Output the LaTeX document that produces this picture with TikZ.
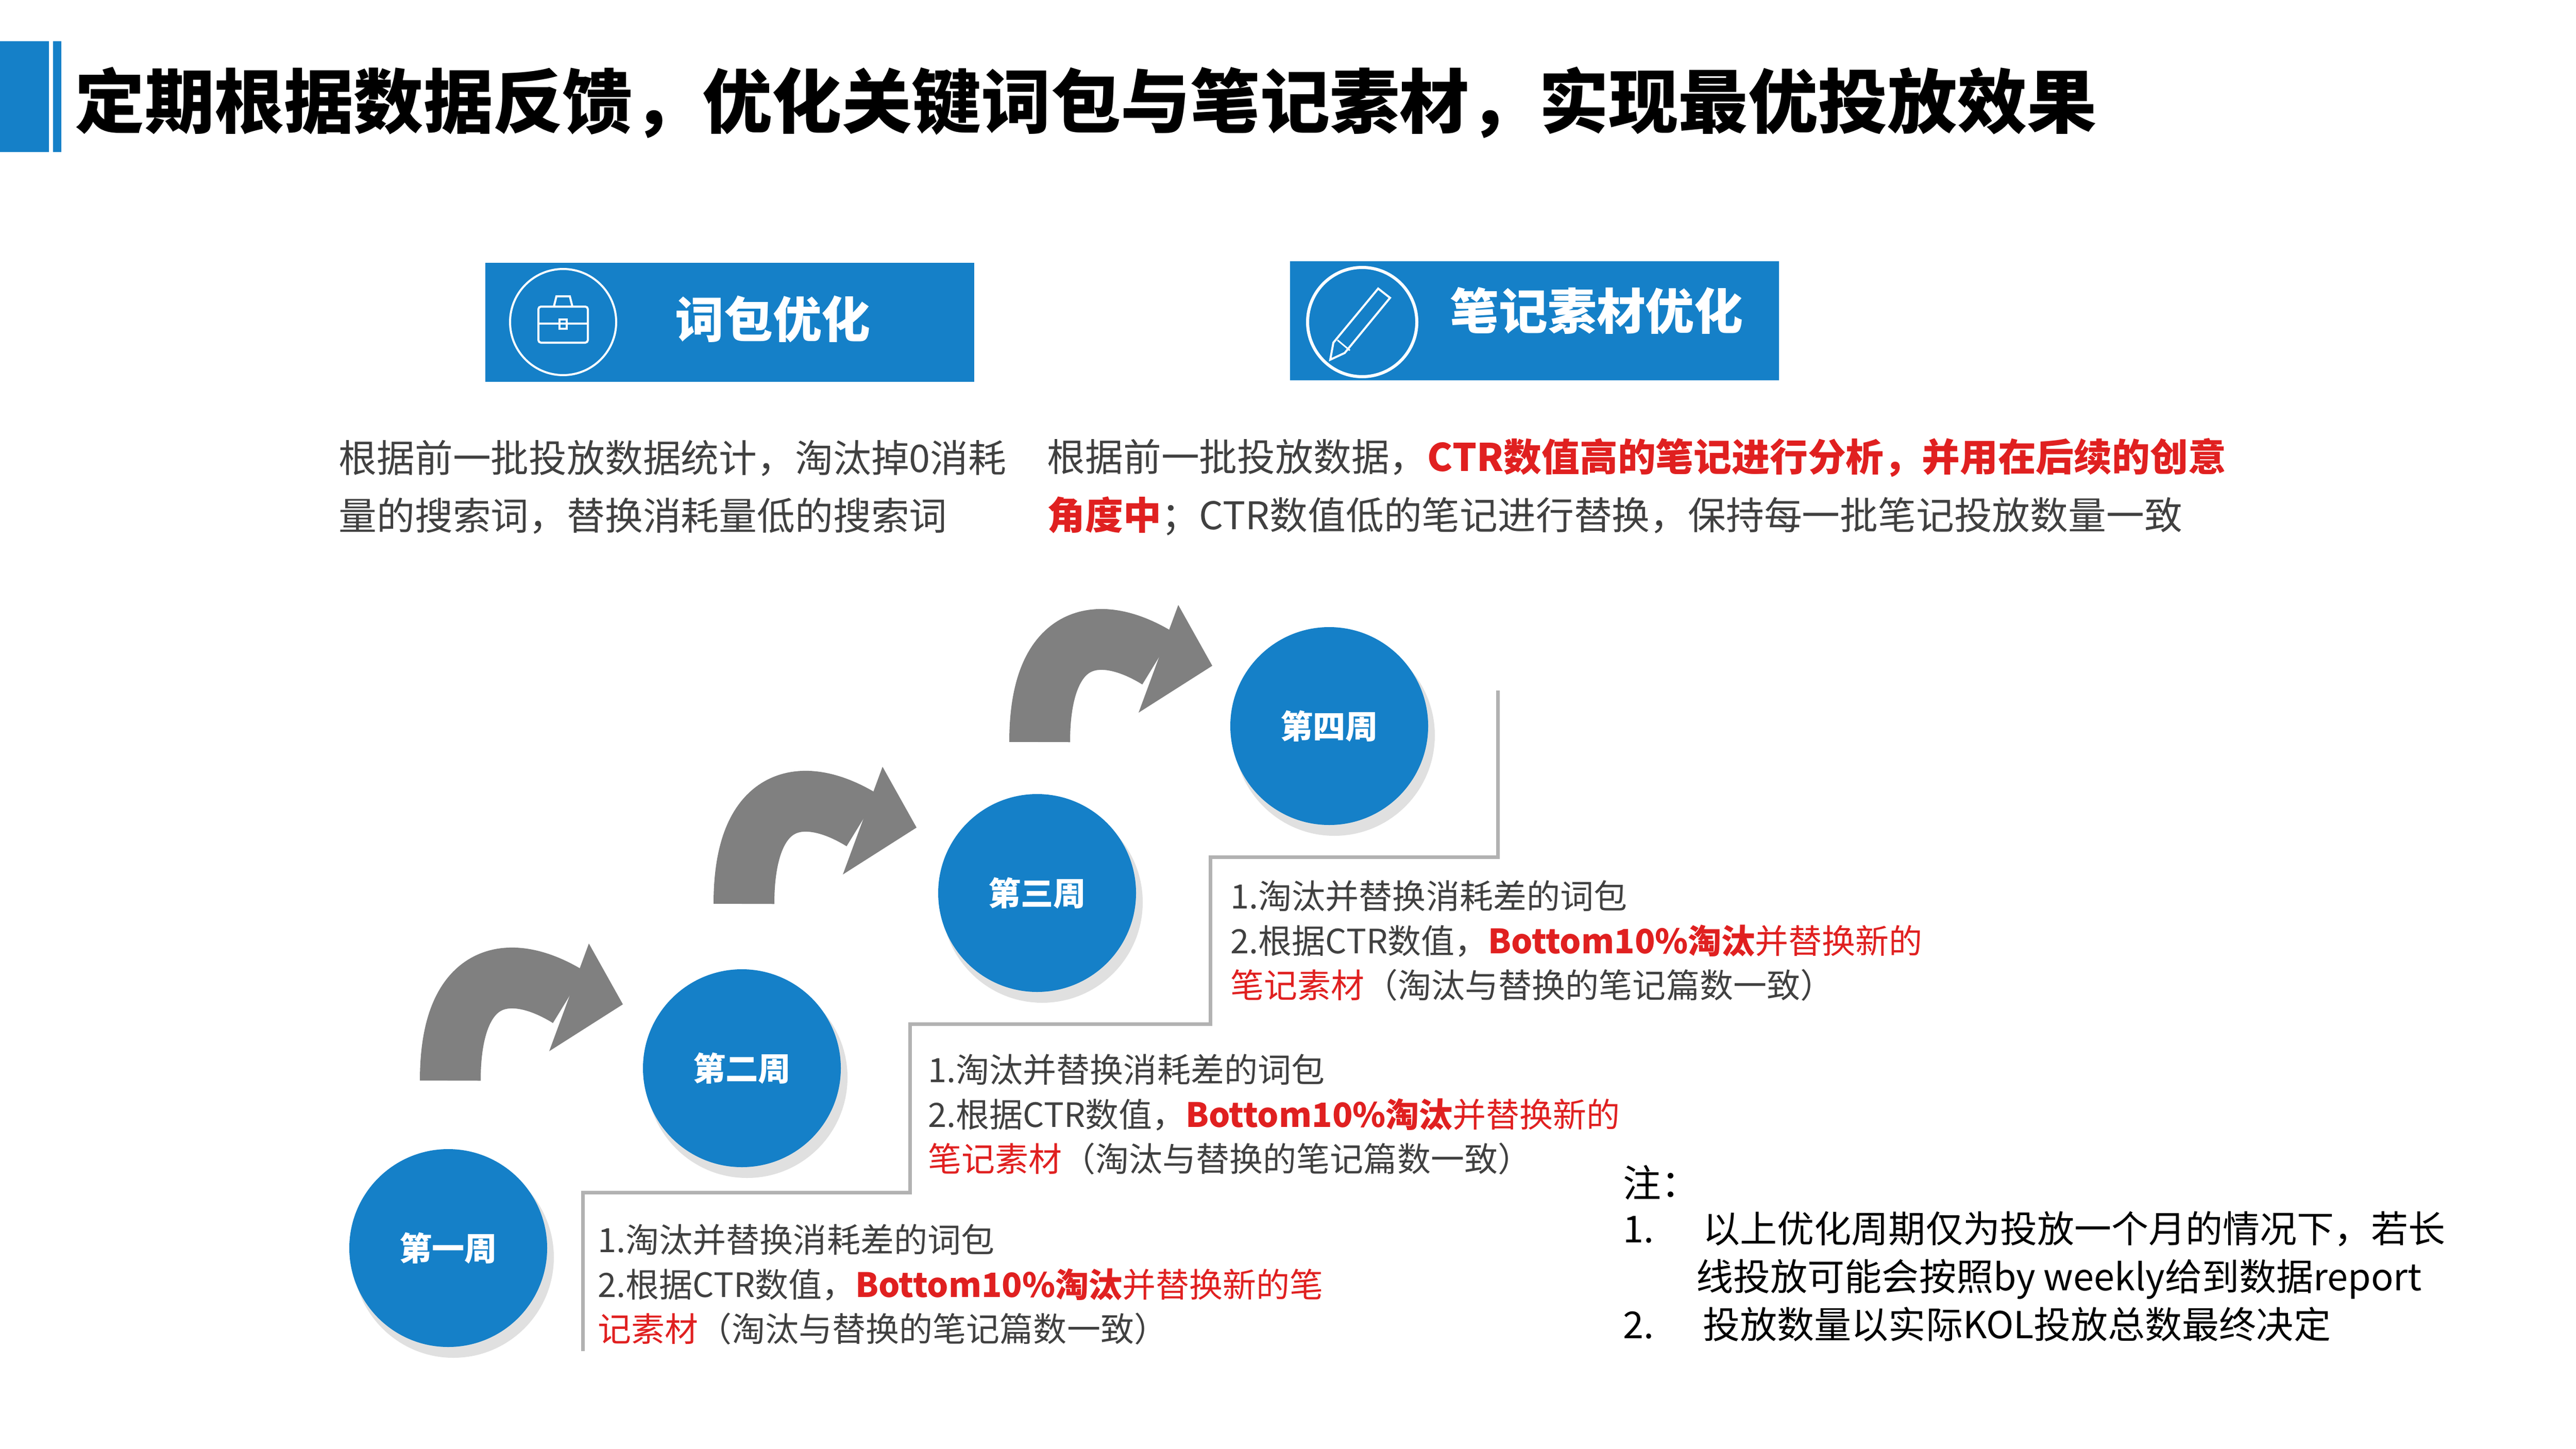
\documentclass[tikz,border=0pt]{standalone}
\usepackage{fontspec}
\setmainfont{Noto Sans CJK SC}
\usetikzlibrary{positioning}
\definecolor{mainblue}{HTML}{1580C8}
\definecolor{txtgray}{HTML}{404040}
\definecolor{hired}{HTML}{E02020}
\definecolor{arrowgray}{HTML}{808080}
\newcommand{\hl}[1]{\textcolor{hired}{\bfseries #1}}
\newcommand{\rd}[1]{\textcolor{hired}{#1}}

\begin{document}
\begin{tikzpicture}[y=-1cm]
  \tikzstyle{header} = [fill=mainblue, minimum width=9.49cm, minimum height=2.31cm, inner sep=0pt]
  \tikzstyle{headtext} = [text=white, font={\fontsize{27}{30}\selectfont\bfseries}]
  \tikzstyle{desc} = [anchor=west, text=txtgray, inner sep=0pt, align=left, font={\fontsize{21}{32}\selectfont}]
  \tikzstyle{week} = [circle, fill=mainblue, minimum size=3.84cm, text=white, font={\fontsize{18}{20}\selectfont\bfseries}]
  \tikzstyle{shade} = [circle, fill=black, opacity=0.12, minimum size=3.9cm]
  \tikzstyle{stepline} = [draw=black!30, line width=0.07cm]
  \tikzstyle{steptext} = [anchor=north west, text=txtgray, inner sep=0pt, align=left, font={\fontsize{18.5}{24.6}\selectfont}]
  \tikzset{bend arrow/.pic={
    \draw[arrowgray, line width=1.18cm] (0,0) .. controls (0,-2.2) and (1.2,-2.3) .. (2.30,-1.62);
    \fill[arrowgray] (2.69,-2.66) -- (3.35,-1.48) -- (1.92,-0.57) -- cycle;
  }}
  \useasboundingbox (0,0) rectangle (50,28.12);

  % title
  \fill[mainblue] (0,0.8) rectangle (0.95,2.95);
  \fill[mainblue] (1.03,0.8) rectangle (1.19,2.95);
  \node[anchor=west, inner sep=0pt, font={\fontsize{38.5}{42}\selectfont\bfseries}] (title) at (1.45,1.99)
    {定期根据数据反馈，优化关键词包与笔记素材，实现最优投放效果};

  % headers
  \node[header] (hwords) at (14.16,6.25) {};
  \node[headtext] (twords) at (15.0,6.19) {词包优化};
  \draw[white, line width=0.04cm] (10.93,6.25) circle (1.03);
  \draw[white, line width=0.04cm, rounded corners=0.05cm] (10.45,5.95) rectangle (11.41,6.65);
  \draw[white, line width=0.04cm] (10.75,5.95) -- (10.8,5.75) -- (11.06,5.75) -- (11.11,5.95);
  \draw[white, line width=0.04cm] (10.45,6.28) -- (11.41,6.28);
  \draw[white, line width=0.04cm] (10.86,6.2) rectangle (11.0,6.38);

  \node[header] (hnotes) at (29.78,6.22) {};
  \node[headtext] (tnotes) at (30.99,6.03) {笔记素材优化};
  \draw[white, line width=0.06cm] (26.44,6.25) circle (1.06);
  \draw[white, line width=0.04cm] (26.75,5.6) -- (26.98,5.78) -- (26.1,6.85) -- (25.82,6.98) -- (25.88,6.65) -- cycle;
  \draw[white, line width=0.03cm] (25.96,6.6) -- (26.2,6.8);

  % descriptions
  \node[desc] (dwords) at (6.57,9.45) {根据前一批投放数据统计，淘汰掉0消耗\\量的搜索词，替换消耗量低的搜索词};
  \node[desc] (dnotes) at (20.32,9.45) {根据前一批投放数据，\hl{CTR数值高的笔记进行分析，并用在后续的创意}\\\hl{角度中}；CTR数值低的笔记进行替换，保持每一批笔记投放数量一致};

  % arrows
  \pic at (8.74,20.97) {bend arrow};
  \pic at (14.44,17.54) {bend arrow};
  \pic at (20.18,14.40) {bend arrow};

  % steps
  \draw[stepline] (11.31,26.22) |- (17.66,23.14) |- (23.49,19.87) |- (29.07,16.63) -- (29.07,13.40);

  % weeks
  \foreach \nm/\x/\y/\lab in {wk1/8.70/24.22/第一周, wk2/14.40/20.73/第二周, wk3/20.13/17.33/第三周, wk4/25.80/14.09/第四周}{
    \node[shade] at (\x+0.1,\y+0.18) {};
    \node[week] (\nm) at (\x,\y) {\lab};
  }

  % step texts
  \node[steptext] (s1) at (11.6,23.75) {1.淘汰并替换消耗差的词包\\2.根据CTR数值，\hl{Bottom10\%淘汰}\rd{并替换新的笔}\\\rd{记素材}（淘汰与替换的笔记篇数一致）};
  \node[steptext] (s2) at (18.01,20.45) {1.淘汰并替换消耗差的词包\\2.根据CTR数值，\hl{Bottom10\%淘汰}\rd{并替换新的}\\\rd{笔记素材}（淘汰与替换的笔记篇数一致）};
  \node[steptext] (s3) at (23.88,17.08) {1.淘汰并替换消耗差的词包\\2.根据CTR数值，\hl{Bottom10\%淘汰}\rd{并替换新的}\\\rd{笔记素材}（淘汰与替换的笔记篇数一致）};

  % note
  \node[anchor=west, inner sep=0pt, font={\fontsize{21}{24}\selectfont}] (note) at (31.5,22.95) {注：};
  \node[anchor=north west, inner sep=0pt, align=left, font={\fontsize{20.5}{26.5}\selectfont}] (notes) at (31.5,23.5)
    {1.\hspace{0.95cm}以上优化周期仅为投放一个月的情况下，若长\\\hspace{1.42cm}线投放可能会按照by weekly给到数据report\\2.\hspace{0.95cm}投放数量以实际KOL投放总数最终决定};
\end{tikzpicture}
\end{document}
